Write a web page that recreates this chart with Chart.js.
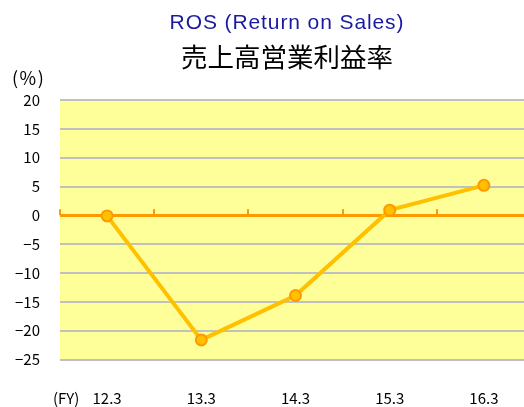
<!DOCTYPE html>
<html><head><meta charset="utf-8">
<script src="https://cdn.jsdelivr.net/npm/chart.js@4"></script>
<style>
html,body{margin:0;padding:0;background:#fff;overflow:hidden;}
#wrap{position:relative;width:524px;height:407px;overflow:hidden;}
#box{position:absolute;left:0;top:0;width:560px;height:407px;}
.t{position:absolute;white-space:nowrap;font-family:"Noto Sans CJK JP","Noto Sans",sans-serif;line-height:1;}
#title{left:287px;top:11px;transform:translateX(-50%);font-size:21px;letter-spacing:0.9px;color:#1a1aa0;font-family:"Liberation Sans",Arial,sans-serif;}
#sub{left:287px;top:43px;transform:translateX(-50%);font-size:26.5px;color:#000;}
#pct{left:12px;top:68px;font-size:18px;letter-spacing:1.5px;color:#000;}
#fy{left:53px;top:390px;font-size:15px;color:#000;}
</style></head>
<body>
<div id="wrap">
<div id="box"><canvas id="c" width="560" height="407"></canvas></div>
<div class="t" id="title">ROS (Return on Sales)</div>
<div class="t" id="sub">売上高営業利益率</div>
<div class="t" id="pct">(%)</div>
<div class="t" id="fy">(FY)</div>
</div>
<script>
const categories = ["12.3","13.3","14.3","15.3","16.3"];
const rosValues = [-0.1, -21.6, -13.9, 0.9, 5.2];
const yTicks = [20,15,10,5,0,-5,-10,-15,-20,-25];

const bgPlugin = {
  id:'bg',
  beforeDraw(chart){
    const {ctx, chartArea:a} = chart;
    ctx.save();
    ctx.fillStyle = '#FFFF99';
    ctx.fillRect(a.left, a.top, a.right-a.left, a.bottom-a.top);
    ctx.restore();
  },
  beforeDatasetsDraw(chart){
    const {ctx, scales:{x,y}} = chart;
    const y0 = y.getPixelForValue(0);
    ctx.save();
    ctx.strokeStyle = '#FF9900';
    ctx.lineWidth = 2;
    for(let i=0;i<=categories.length;i++){
      const px = Math.round(x.getPixelForValue(i-0.5));
      ctx.beginPath();
      ctx.moveTo(px, y0);
      ctx.lineTo(px, y0-6);
      ctx.stroke();
    }
    ctx.restore();
  }
};

new Chart(document.getElementById('c'), {
  type:'line',
  data:{labels:categories, datasets:[{
    data:rosValues,
    borderColor:'#FFC000',
    borderWidth:4,
    pointRadius:5.5,
    pointBackgroundColor:'#FFC000',
    pointBorderColor:'#FF9900',
    pointBorderWidth:2,
    tension:0
  }]},
  plugins:[bgPlugin],
  options:{
    responsive:false,
    animation:false,
    layout:{padding:{left:0,top:100,right:29,bottom:0}},
    plugins:{legend:{display:false},tooltip:{enabled:false}},
    scales:{
      x:{
        offset:true,
        grid:{display:false},
        border:{display:false},
        ticks:{padding:22,color:'#000',font:{family:'"Noto Sans CJK JP"',size:15},maxRotation:0},
        afterFit(s){s.height=47.5;}
      },
      y:{
        min:-25,max:20,
        afterBuildTicks(s){s.ticks = yTicks.map(v=>({value:v}));},
        grid:{
          drawTicks:false,
          color:c=>c.tick && c.tick.value===0 ? '#FF9900' : '#C0C0C0',
          lineWidth:c=>c.tick && c.tick.value===0 ? 3 : 2
        },
        border:{display:false},
        ticks:{padding:20,color:'#000',font:{family:'"Noto Sans CJK JP"',size:15},
          callback:v=>String(v).replace('-','−')},
        afterFit(s){s.width=60;}
      }
    }
  }
});
</script>
</body></html>
